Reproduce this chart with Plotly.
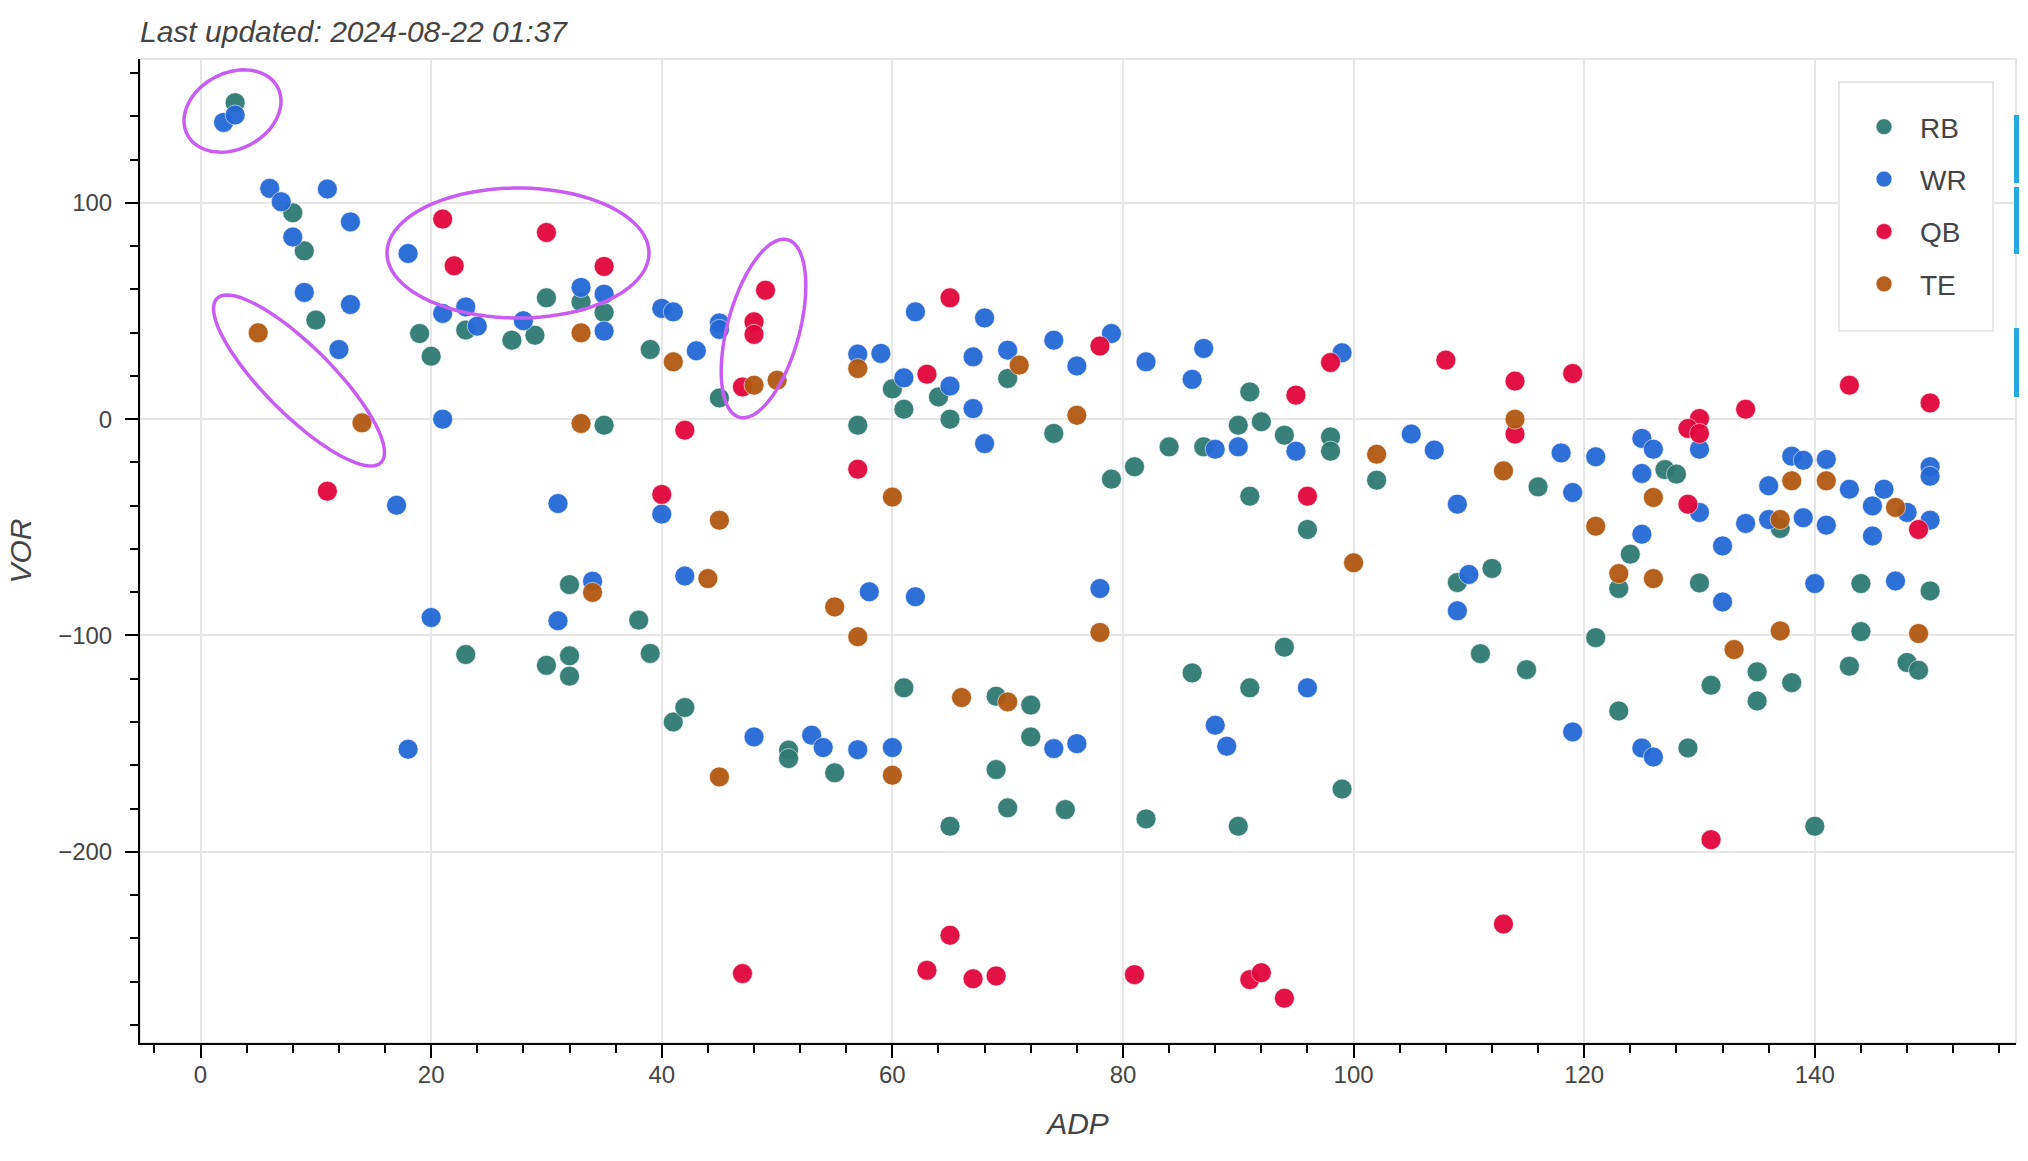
import numpy as np
import plotly.graph_objects as go

# ---------------- data ----------------
positions = ["RB", "WR", "QB", "TE"]
colors = {"RB": "#2e7a72", "WR": "#2468d6", "QB": "#e1073a", "TE": "#b25810"}

rb_adp = [3, 8, 9, 10, 19, 20, 23, 27, 29, 30, 33, 35, 39, 45, 60, 61, 64, 65, 70, 35,
          57, 74, 79, 81, 84, 87, 90, 91, 92, 94, 98, 98, 91, 96, 102, 116, 127, 128, 137, 124,
          123, 130, 121, 144, 150, 144, 143, 148, 149, 131, 135, 135, 138, 123, 129, 140, 109, 112, 111, 115,
          94, 86, 91, 99, 90, 82, 75, 70, 65, 69, 72, 72, 69, 61, 55, 51, 51, 41, 42, 38,
          39, 23, 30, 32, 32, 32]
rb_vor = [146.3, 95.4, 77.8, 45.8, 39.6, 29.1, 41.2, 36.5, 38.8, 56.1, 54.2, 49.3, 32.2, 9.8, 14.0, 4.6, 10.3, 0.0, 18.8, -2.8,
          -2.8, -6.6, -27.7, -22.0, -12.8, -12.8, -2.8, 12.6, -1.2, -7.4, -8.2, -14.8, -35.6, -51.0, -28.2, -31.3, -23.3, -25.4, -50.5, -62.4,
          -78.3, -75.7, -101.0, -76.0, -79.4, -98.2, -114.2, -112.5, -116.1, -123.0, -116.8, -130.3, -121.8, -134.9, -152.0, -188.2, -75.5, -69.0, -108.4, -115.8,
          -105.4, -117.3, -124.2, -171.0, -188.2, -184.8, -180.5, -179.7, -188.2, -162.0, -146.9, -132.2, -128.1, -124.2, -163.5, -153.0, -156.9, -140.0, -133.3, -92.9,
          -108.3, -108.8, -113.8, -109.4, -118.8, -76.5]

wr_adp = [2, 3, 6, 7, 11, 13, 8, 18, 9, 13, 12, 21, 23, 24, 28, 33, 35, 35, 40, 41,
          45, 45, 43, 62, 68, 57, 59, 67, 70, 74, 76, 61, 65, 79, 82, 87, 86, 99, 21, 17,
          31, 34, 20, 31, 18, 67, 68, 40, 42, 58, 62, 48, 53, 54, 57, 60, 74, 76, 88, 90,
          95, 105, 107, 109, 118, 110, 109, 78, 96, 88, 89, 130, 125, 126, 121, 119, 125, 130, 125, 132,
          132, 119, 125, 126, 136, 138, 139, 141, 143, 146, 145, 148, 150, 150, 150, 145, 134, 136, 139, 141,
          140, 147]
wr_vor = [137.2, 140.6, 106.7, 100.5, 106.4, 91.2, 84.2, 76.6, 58.6, 53.0, 32.2, 48.9, 51.9, 43.0, 45.5, 60.9, 57.8, 40.7, 51.2, 49.6,
          44.5, 41.5, 31.6, 49.6, 46.8, 30.1, 30.4, 28.8, 31.9, 36.5, 24.6, 19.1, 15.3, 39.6, 26.5, 32.7, 18.4, 30.7, 0.0, -39.8,
          -39.0, -74.9, -91.7, -93.2, -152.6, 4.9, -11.3, -43.9, -72.5, -79.8, -82.1, -146.9, -146.1, -151.8, -152.8, -151.8, -152.3, -150.0, -13.9, -12.8,
          -14.8, -6.9, -14.3, -39.3, -15.6, -71.8, -88.6, -78.3, -124.2, -141.5, -151.2, -13.9, -8.9, -13.9, -17.4, -33.9, -25.1, -43.1, -53.2, -58.6,
          -84.5, -144.6, -152.0, -156.2, -30.8, -17.1, -19.0, -18.6, -32.4, -32.4, -40.1, -43.1, -22.0, -26.4, -46.7, -54.0, -48.2, -46.4, -45.6, -49.0,
          -76.0, -74.8]

qb_adp = [21, 22, 30, 35, 49, 48, 48, 47, 65, 63, 78, 95, 98, 108, 114, 119, 143, 150, 134, 130,
          129, 130, 129, 149, 114, 96, 57, 42, 40, 11, 65, 47, 63, 67, 69, 113, 81, 91, 92, 94,
          131]
qb_vor = [92.5, 70.9, 86.3, 70.6, 59.6, 45.0, 39.2, 14.9, 56.1, 20.8, 33.8, 11.1, 26.2, 27.3, 17.6, 21.1, 15.7, 7.5, 4.6, 0.3,
          -4.3, -6.6, -39.3, -51.0, -6.9, -35.6, -23.1, -5.1, -34.8, -33.3, -238.6, -256.3, -254.8, -258.7, -257.4, -233.4, -256.8, -259.1, -255.9, -267.7,
          -194.4]

te_adp = [5, 14, 33, 33, 34, 41, 48, 50, 57, 71, 76, 45, 60, 44, 55, 57, 66, 70, 45, 60,
          102, 114, 113, 100, 78, 126, 121, 123, 126, 138, 141, 147, 137, 133, 137, 149]
te_vor = [39.9, -1.7, 39.9, -2.0, -80.1, 26.5, 15.7, 18.0, 23.4, 25.0, 1.8, -46.7, -36.0, -73.7, -86.8, -100.6, -128.7, -130.7, -165.4, -164.6,
          -16.2, 0.0, -23.9, -66.4, -98.6, -36.2, -49.5, -71.4, -73.7, -28.5, -28.5, -40.8, -46.4, -106.5, -97.9, -99.1]

series = {"RB": (rb_adp, rb_vor), "WR": (wr_adp, wr_vor),
          "QB": (qb_adp, qb_vor), "TE": (te_adp, te_vor)}

x_ticks = [0, 20, 40, 60, 80, 100, 120, 140]
y_ticks = [-200, -100, 0, 100]

title_text = "Last updated: 2024-08-22 01:37"

# ---------------- figure ----------------
FONT = "Liberation Sans, Helvetica, Arial, sans-serif"
TXT = "#444444"
W, H = 2028, 1161
L, R, T, B = 140, 12, 59, 118
PW, PH = W - L - R, H - T - B


def px_x(p):
    return (p - L) / PW


def px_y(p):
    return (H - B - p) / PH


def ellipse_path(cx, cy, a, b, theta_deg, n=90):
    """Closed SVG path (paper coords) of a rotated ellipse given in page pixels."""
    th = np.radians(theta_deg)
    t = np.linspace(0, 2 * np.pi, n, endpoint=False)
    xs = cx + a * np.cos(t) * np.cos(th) - b * np.sin(t) * np.sin(th)
    ys = cy + a * np.cos(t) * np.sin(th) + b * np.sin(t) * np.cos(th)
    pts = [f"{px_x(x):.5f},{px_y(y):.5f}" for x, y in zip(xs, ys)]
    return "M " + " L ".join(pts) + " Z"


fig = go.Figure()
for pos in positions:
    xs, ys = series[pos]
    fig.add_trace(go.Scatter(
        x=xs, y=ys, mode="markers", name=pos,
        legendgroup=pos,
        marker=dict(size=20, color=colors[pos], opacity=0.95,
                    line=dict(width=1, color="rgba(255,255,255,0.6)")),
    ))

shapes = [
    # light plot outline (top / right)
    dict(type="rect", xref="paper", yref="paper", x0=0, x1=1, y0=0, y1=1,
         line=dict(color="#e5e5e5", width=2), fillcolor="rgba(0,0,0,0)", layer="below"),
    # legend box
    dict(type="rect", xref="paper", yref="paper",
         x0=px_x(1839), x1=px_x(1993), y0=px_y(331), y1=px_y(82),
         line=dict(color="#e8e8e8", width=2), fillcolor="white", layer="above"),
]
# toolbar indicator bars at the right edge
for y0, y1 in [(115, 183), (187, 254), (328, 397)]:
    shapes.append(dict(type="rect", xref="paper", yref="paper",
                       x0=px_x(2014), x1=px_x(2019), y0=px_y(y1), y1=px_y(y0),
                       line=dict(width=0), fillcolor="#26a9e0", layer="above"))

# hand-drawn highlight ellipses (annotations on the screenshot)
highlight = [(232.5, 111, 51, 38, -27.7),
             (518, 253, 131, 65, 0),
             (763.5, 328.5, 92, 36, -74.8),
             (299, 380.5, 116, 34, 45)]
for cx, cy, a, b, th in highlight:
    shapes.append(dict(type="path", xref="paper", yref="paper",
                       path=ellipse_path(cx, cy, a, b, th),
                       line=dict(color="#c95cf2", width=3.5),
                       fillcolor="rgba(0,0,0,0)", layer="above"))

axis_common = dict(
    showline=True, linecolor="black", linewidth=2,
    ticks="outside", ticklen=13, tickwidth=2, tickcolor="black",
    showgrid=True, gridcolor="#e6e6e6", gridwidth=2,
    zeroline=False,
    tickfont=dict(family=FONT, size=24, color=TXT),
)

fig.update_layout(
    width=W, height=H,
    margin=dict(l=L, r=R, t=T, b=B, pad=0),
    paper_bgcolor="white", plot_bgcolor="white",
    font=dict(family=FONT, color=TXT),
    title=dict(text=title_text, x=0, xref="paper", xanchor="left",
               y=1 - 31 / H, yref="container", yanchor="middle",
               font=dict(family=FONT, size=30, color=TXT, style="italic")),
    xaxis=dict(range=[-5.25, 157.45], tickvals=x_ticks,
               minor=dict(dtick=4, tick0=0, ticks="outside", ticklen=8, tickwidth=2,
                          tickcolor="black", showgrid=False),
               title=dict(text="ADP", standoff=26,
                          font=dict(family=FONT, size=30, color=TXT, style="italic")),
               ticklabelstandoff=-4,
               **axis_common),
    yaxis=dict(range=[-288.4, 166.5], tickvals=y_ticks,
               minor=dict(dtick=20, tick0=0, ticks="outside", ticklen=8, tickwidth=2,
                          tickcolor="black", showgrid=False),
               title=dict(text="VOR", standoff=18,
                          font=dict(family=FONT, size=30, color=TXT, style="italic")),
               ticklabelstandoff=8,
               **axis_common),
    legend=dict(x=px_x(1848), xanchor="left", y=px_y(102), yanchor="top",
                bgcolor="rgba(0,0,0,0)", borderwidth=0,
                font=dict(family=FONT, size=28, color=TXT),
                itemwidth=62, traceorder="grouped", tracegroupgap=13),
    shapes=shapes,
    showlegend=True,
)

fig.write_html("out.html", config={"displayModeBar": False},
               post_script="document.body.style.margin='0';document.body.style.overflow='hidden';")
